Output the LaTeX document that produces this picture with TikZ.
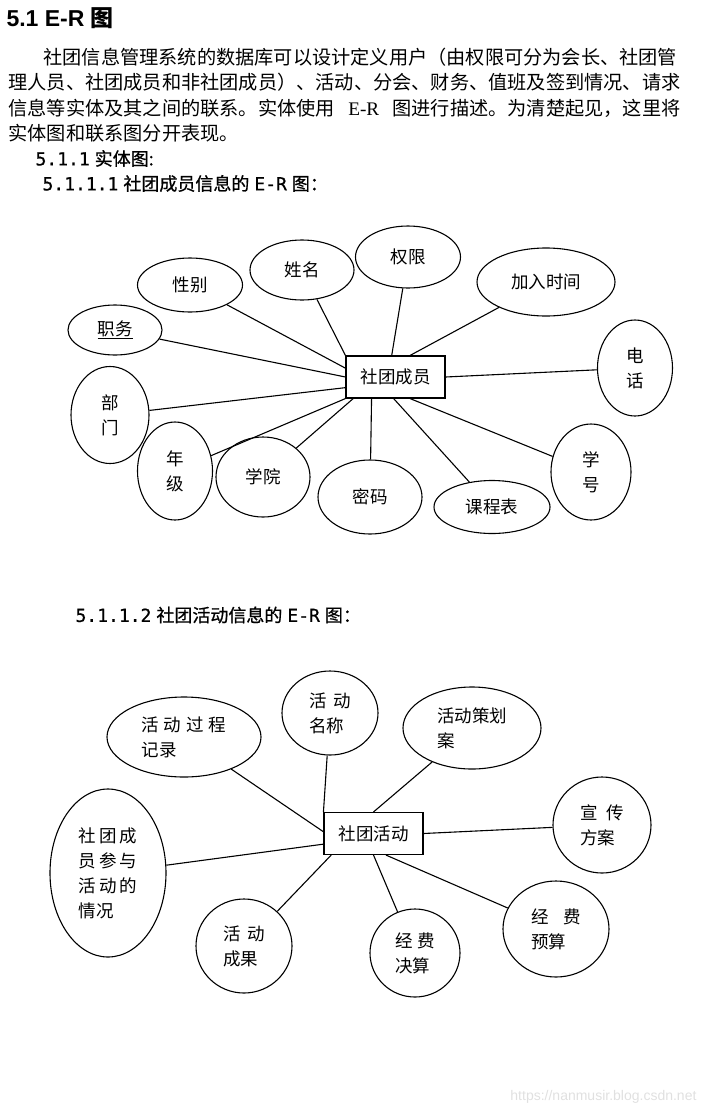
\documentclass[tikz,border=0pt]{standalone}
\usepackage{fontspec}
\setmainfont{Noto Sans CJK SC}
\newfontfamily\heifont[FakeBold=0.8]{Noto Sans CJK SC}
\newfontfamily\numfont[FakeBold=0.8]{DejaVu Sans Mono}
\newfontfamily\headfont{Liberation Sans}
\newfontfamily\romanfont{Liberation Serif}
\usetikzlibrary{shapes.geometric}

\newcommand{\gap}[1]{\hspace{#1pt}}

\begin{document}
\begin{tikzpicture}[x=1pt,y=-1pt,line width=1.1pt,
    attr/.style={draw, ellipse, inner sep=0pt, align=center, font=\fontsize{17.5}{25}\selectfont},
    entity/.style={draw, rectangle, minimum width=99pt, minimum height=42pt, inner sep=0pt, font=\fontsize{17.5}{25}\selectfont},
    textline/.style={anchor=west, inner sep=0pt, font=\fontsize{19.2}{25}\selectfont},
    title/.style={anchor=west, inner sep=0pt, font=\fontsize{18}{25}\selectfont\heifont},
    ]
\useasboundingbox (0,0) rectangle (707,1112);

% heading and text
\node[anchor=west, inner sep=0pt, font=\fontsize{23}{25}\selectfont\bfseries] (head) at (6,18) {\headfont 5.1 E-R \normalfont\bfseries 图};
\node[textline] (l1) at (43,57.5) {社团信息管理系统的数据库可以设计定义用户（由权限可分为会长、社团管};
\node[textline] (l2) at (8,82.5) {理人员、社团成员和非社团成员）、活动、分会、财务、值班及签到情况、请求};
\node[textline] (l3) at (8,108) {\makebox[672pt][s]{信息等实体及其之间的联系。实体使用\hfill\romanfont E-R\hfill\normalfont 图进行描述。为清楚起见，这里将}};
\node[textline] (l4) at (8,133) {实体图和联系图分开表现。};
\node[title] (t1) at (35,158.5) {\numfont 5.1.1\gap{5}\heifont 实体图:};
\node[title] (t2) at (42,183.5) {\numfont 5.1.1.1\gap{5}\heifont 社团成员信息的\gap{5}\numfont E-R\gap{5}\heifont 图：};

% member entity
\node[entity] (member) at (395.5,377) {社团成员};
\node[attr, minimum width=94pt, minimum height=50pt] (duty) at (115,330) {\underline{职务}};
\node[attr, minimum width=105pt, minimum height=54pt] (sex) at (190,285) {性别};
\node[attr, minimum width=104pt, minimum height=60pt] (name) at (302,270) {姓名};
\node[attr, minimum width=105pt, minimum height=62pt] (auth) at (408,257) {权限};
\node[attr, minimum width=138pt, minimum height=68pt] (jointime) at (546,282) {加入时间};
\node[attr, minimum width=75pt, minimum height=96pt] (phone) at (635,368) {电\\话};
\node[attr, minimum width=80pt, minimum height=96pt] (sno) at (591,472) {学\\号};
\node[attr, minimum width=116pt, minimum height=53pt] (course) at (492,507) {课程表};
\node[attr, minimum width=104pt, minimum height=74pt] (pwd) at (370,497) {密码};
\node[attr, minimum width=94pt, minimum height=80pt] (college) at (263,477) {学院};
\node[attr, minimum width=75pt, minimum height=98pt] (grade) at (175,471) {年\\级};
\node[attr, minimum width=78pt, minimum height=97pt] (dept) at (110,415) {部\\门};

\draw (member.west) -- (duty);
\draw (member.170) -- (sex);
\draw (member.north west) -- (name);
\draw (member.100) -- (auth);
\draw (member.56) -- (jointime);
\draw (member.east) -- (phone);
\draw (member.-56) -- (sno);
\draw (member.265) -- (course);
\draw (member.222) -- (pwd);
\draw (member.207) -- (college);
\draw (member.south west) -- (grade);
\draw (member.192) -- (dept);

% activity entity
\node[title] (t3) at (75,615) {\numfont 5.1.1.2\gap{5}\heifont 社团活动信息的\gap{5}\numfont E-R\gap{5}\heifont 图：};

\node[entity] (act) at (373.5,833.5) {社团活动};
\node[attr, align=left, minimum width=154pt, minimum height=80pt] (record) at (184,737) {活\gap{5}动\gap{5}过\gap{5}程\\记录};
\node[attr, align=left, minimum width=96pt, minimum height=84pt] (actname) at (330,713) {活\gap{7}动\\名称};
\node[attr, align=left, minimum width=138pt, minimum height=82pt] (plan) at (472,728) {活动策划\\案};
\node[attr, align=left, minimum width=98pt, minimum height=96pt] (promo) at (602,825) {宣\gap{9}传\\方案};
\node[attr, align=left, minimum width=106pt, minimum height=96pt] (budget) at (556,929) {经\gap{15}费\\预算};
\node[attr, align=left, minimum width=90pt, minimum height=88pt] (settle) at (415,953) {经\gap{5}费\\决算};
\node[attr, align=left, minimum width=96pt, minimum height=94pt] (result) at (244,946) {活\gap{7}动\\成果};
\node[attr, align=left, minimum width=116pt, minimum height=168pt] (takepart) at (108,873) {社\gap{3}团\gap{3}成\\员\gap{3}参\gap{3}与\\活\gap{3}动\gap{3}的\\情况};

\draw (act.178) -- (record);
\draw (act.north west) -- (actname);
\draw (act.north) -- (plan);
\draw (act.east) -- (promo);
\draw (act.300) -- (budget);
\draw (act.south) -- (settle);
\draw (act.207) -- (result);
\draw (act.192) -- (takepart);

\node[anchor=east, inner sep=0pt, text=black!12, font=\headfont\fontsize{14}{16}\selectfont] (mark) at (697,1097) {https://nanmusir.blog.csdn.net};
\end{tikzpicture}
\end{document}
